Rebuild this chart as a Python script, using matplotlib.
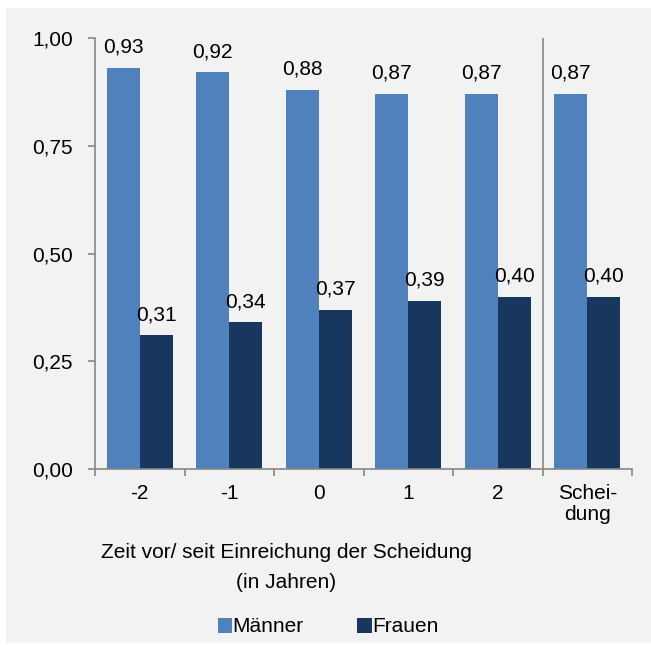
import numpy as np
import matplotlib
matplotlib.use("Agg")
import matplotlib.pyplot as plt
from matplotlib.patches import Rectangle

plt.rcParams['font.family'] = ['Liberation Sans', 'DejaVu Sans']

# data
categories = ['-2', '-1', '0', '1', '2', 'Schei-\ndung']
maenner = [0.93, 0.92, 0.88, 0.87, 0.87, 0.87]
frauen = [0.31, 0.34, 0.37, 0.39, 0.40, 0.40]
yticks = [0.0, 0.25, 0.5, 0.75, 1.0]

c_m = '#4f81bd'
c_f = '#17375e'
grey = '#868686'
fs = 15

fig = plt.figure(figsize=(6.51, 6.45), dpi=100)
fig.patch.set_facecolor('white')
# grey background panel
bg = Rectangle((6/651, 2/645), 1, 635/645, transform=fig.transFigure,
               facecolor='#f2f2f2', edgecolor='none', zorder=-10)
fig.add_artist(bg)

ax = fig.add_axes([95/651, 1-469/645, 537/651, 431/645])
ax.set_facecolor('none')

x = np.arange(len(categories))
w = 0.37
b1 = ax.bar(x - w/2, maenner, w, color=c_m, label='Männer', zorder=2)
b2 = ax.bar(x + w/2, frauen, w, color=c_f, label='Frauen', zorder=2)

def fmt(v):
    return ('%.2f' % v).replace('.', ',')

for xi, v in zip(x, maenner):
    ax.annotate(fmt(v), (xi - w/2, v), xytext=(0, 11), textcoords='offset points',
                ha='center', va='baseline', fontsize=fs)
for xi, v in zip(x, frauen):
    ax.annotate(fmt(v), (xi + w/2, v), xytext=(0, 11), textcoords='offset points',
                ha='center', va='baseline', fontsize=fs)

ax.set_xlim(-0.5, len(categories) - 0.5)
ax.set_ylim(0, 1)
ax.set_yticks(yticks)
ax.set_yticklabels([fmt(t) for t in yticks], fontsize=fs)
ax.set_xticks(x)
ax.set_xticklabels(categories, fontsize=fs, linespacing=1.1)
ax.set_xticks(np.arange(-0.5, len(categories)), minor=True)
ax.tick_params(axis='x', which='major', length=0, pad=11)
ax.tick_params(axis='x', which='minor', length=5, color=grey, width=1.2)
ax.tick_params(axis='y', length=5, color=grey, width=1.2, pad=11)

for s in ['top', 'right']:
    ax.spines[s].set_visible(False)
for s in ['left', 'bottom']:
    ax.spines[s].set_color(grey)
    ax.spines[s].set_linewidth(1.2)

# separator before "Scheidung"
ax.axvline(len(categories) - 1.5, color=grey, lw=1.2, zorder=3)

fig.text(286/651, 1-553/645, 'Zeit vor/ seit Einreichung der Scheidung',
         ha='center', va='center', fontsize=fs)
fig.text(286/651, 1-582/645, '(in Jahren)', ha='center', va='center', fontsize=fs)

fig.legend(handles=[b1, b2], loc='center', bbox_to_anchor=(328/651, 1-627/645),
           ncol=2, frameon=False, fontsize=fs, handlelength=0.7, handleheight=0.7,
           handletextpad=0.0, columnspacing=2.6, borderpad=0)

fig.savefig('out.png', dpi=100)
